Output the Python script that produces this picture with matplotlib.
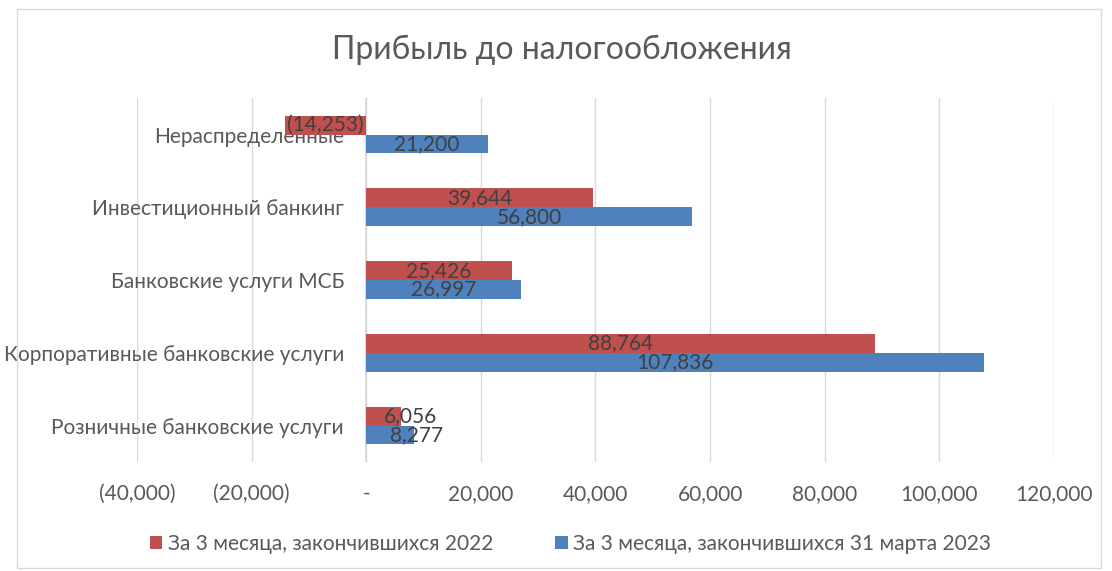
import matplotlib
matplotlib.use('Agg')
import matplotlib.pyplot as plt
import numpy as np
from matplotlib.patches import Rectangle
from matplotlib.ticker import FuncFormatter

# data (bottom to top, as in the chart)
categories = ['Розничные банковские услуги', 'Корпоративные банковские услуги',
              'Банковские услуги МСБ', 'Инвестиционный банкинг', 'Нераспределенные']
values_2022 = [6056, 88764, 25426, 39644, -14253]
values_2023 = [8277, 107836, 26997, 56800, 21200]
label_2022 = 'За 3 месяца, закончившихся 2022'
label_2023 = 'За 3 месяца, закончившихся 31 марта 2023'

red = '#C0504D'
blue = '#4F81BD'
grey = '#595959'

plt.rcParams['font.family'] = ['Lato', 'DejaVu Sans']

fig = plt.figure(figsize=(11.12, 5.71), dpi=100)
ax = fig.add_axes([0.1232, 0.191, 0.8246, 0.637])

y = np.arange(len(categories))
h = 0.26
ax.barh(y + h / 2, values_2022, height=h, color=red, label=label_2022)
ax.barh(y - h / 2, values_2023, height=h, color=blue, label=label_2023)


def fmt(v):
    if v < 0:
        return '({:,.0f})'.format(-v)
    if v == 0:
        return '-'
    return '{:,.0f}'.format(v)


def put_label(v, yy):
    # small positive bars: label starts mid-bar (Excel shifts it off the axis)
    if 0 < v < 10000:
        ax.text(v / 2, yy, fmt(v), ha='left', va='center', fontsize=15, color='#404040', zorder=5)
    else:
        ax.text(v / 2, yy, fmt(v), ha='center', va='center', fontsize=15, color='#404040', zorder=5)


for yi, v in zip(y, values_2022):
    put_label(v, yi + h / 2)
for yi, v in zip(y, values_2023):
    put_label(v, yi - h / 2)

ax.set_xlim(-40000, 120000)
ax.set_ylim(-0.5, 4.5)
ax.set_xticks(np.arange(-40000, 120001, 20000))
ax.xaxis.set_major_formatter(FuncFormatter(lambda v, p: fmt(v)))
ax.set_yticks(y)
ax.set_yticklabels(categories)
ax.spines['left'].set_position(('data', 0))
ax.tick_params(axis='both', length=0, labelsize=15, colors=grey)
ax.tick_params(axis='x', pad=16)
ax.tick_params(axis='y', pad=16)
for lab in ax.get_yticklabels():
    lab.set_zorder(4)
ax.grid(axis='x', color='#D9D9D9', linewidth=1)
ax.set_axisbelow(True)
for s in ax.spines.values():
    s.set_visible(False)
ax.axvline(0, color='#D9D9D9', linewidth=1.5, zorder=0)

fig.text(0.505, 0.913, 'Прибыль до налогообложения', ha='center', va='center',
         fontsize=23, color=grey)

fig.legend(loc='center', bbox_to_anchor=(0.513, 0.047), ncol=2, frameon=False,
           fontsize=15, handlelength=0.6, handleheight=0.6, handletextpad=0.25,
           columnspacing=3.0, labelcolor=grey)

fig.patches.append(Rectangle((0.015, 0.005), 0.975, 0.98, transform=fig.transFigure,
                             fill=False, edgecolor='#D9D9D9', linewidth=1))

fig.savefig('out.png', dpi=100)
